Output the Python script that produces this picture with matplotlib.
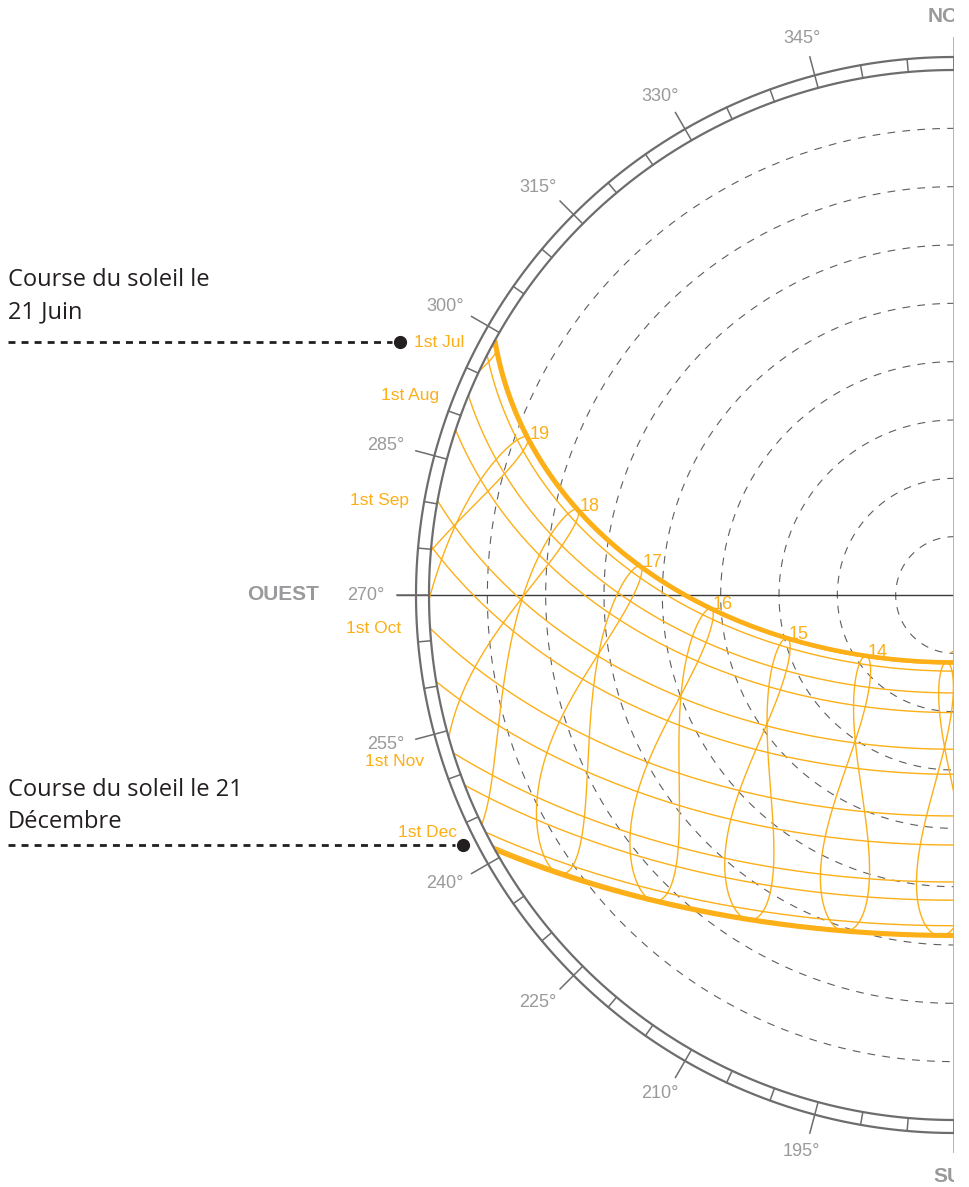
import numpy as np
import matplotlib.pyplot as plt

# site used for the sun path
latitude = 35.0
longitude = 1.75
utc_offset = 1

# 1st of each month, and the two solstices (day of year)
month_days = [1, 32, 60, 91, 121, 152, 182, 213, 244, 274, 305, 335]
solstice_days = [172, 355]
label_days = [182, 213, 244, 274, 305, 335]
date_labels = ['1st Jul', '1st Aug', '1st Sep', '1st Oct', '1st Nov', '1st Dec']
label_shift = [0, 0, 0, 0, -8, 0]

hours = [13, 14, 15, 16, 17, 18, 19, 20]
hour_labels = [13, 14, 15, 16, 17, 18, 19]
altitude_rings = [10, 20, 30, 40, 50, 60, 70, 80]
azimuth_ticks = list(range(180, 361, 5))
azimuth_labels = [195, 210, 225, 240, 255, 270, 285, 300, 315, 330, 345]

ORANGE = '#fcaf17'
GREY = '#6d6d6f'
LABEL_GREY = '#9a9a9c'

# pixel layout: centre of the diagram and px per degree of zenith angle
CX, CY = 954, 595
S = 525 / 90


def px(x, y):
    return (x - CX) / S, (CY - y) / S


def sun_position(day, clock):
    g = 2 * np.pi / 365 * (day - 1 + (clock - 12) / 24)
    decl = (0.006918 - 0.399912 * np.cos(g) + 0.070257 * np.sin(g)
            - 0.006758 * np.cos(2 * g) + 0.000907 * np.sin(2 * g)
            - 0.002697 * np.cos(3 * g) + 0.00148 * np.sin(3 * g))
    eot = 229.18 * (0.000075 + 0.001868 * np.cos(g) - 0.032077 * np.sin(g)
                    - 0.014615 * np.cos(2 * g) - 0.040849 * np.sin(2 * g))
    tst = clock * 60 + eot + 4 * longitude - 60 * utc_offset
    ha = np.radians(tst / 4 - 180)
    lat = np.radians(latitude)
    cz = np.sin(lat) * np.sin(decl) + np.cos(lat) * np.cos(decl) * np.cos(ha)
    zen = np.degrees(np.arccos(np.clip(cz, -1, 1)))
    az = np.arctan2(np.sin(ha), np.cos(ha) * np.sin(lat) - np.tan(decl) * np.cos(lat)) + np.pi
    return zen, az, decl


def to_xy(zen, az):
    return zen * np.sin(az), zen * np.cos(az)


fig = plt.figure(figsize=(9.69, 11.87), dpi=100)
ax = fig.add_axes([0, 0, CX / 969, 1])
ax.set_xlim(-CX / S, 0)
ax.set_ylim(-(1187 - CY) / S, CY / S)
ax.axis('off')

t = np.linspace(0, 2 * np.pi, 721)

# altitude circles
for alt in altitude_rings:
    r = 90 - alt
    ax.plot(r * np.cos(t), r * np.sin(t), color='#5e5e5e', lw=0.8,
            ls=(0, (7, 6.5)), zorder=1)

# cardinal lines
ax.plot([-95.5, 0], [0, 0], color='#3a3a3a', lw=1.0, zorder=2)
ax.plot([0, 0], [-95.5, 95.5], color='#b0b0b0', lw=1.3, zorder=2)

# compass ring
for r in (90, 538 / S):
    ax.plot(r * np.cos(t), r * np.sin(t), color=GREY, lw=1.6, zorder=4)
for a in azimuth_ticks:
    ar = np.radians(a)
    r1 = 95.5 if a in azimuth_labels else 538 / S
    ax.plot([90 * np.sin(ar), r1 * np.sin(ar)], [90 * np.cos(ar), r1 * np.cos(ar)],
            color=GREY, lw=1.1, zorder=4)
for a in azimuth_labels:
    ar = np.radians(a)
    ax.text(588 / S * np.sin(ar), 576 / S * np.cos(ar), f'{a}°', color=LABEL_GREY,
            fontsize=13, family='Liberation Sans', ha='center', va='center')

ax.text(*px(283, 595), 'OUEST', color=LABEL_GREY, fontsize=15, fontweight='bold',
        family='Liberation Sans', ha='center', va='center')
# north and south names sit on the meridian and are cut by the half diagram
ax.text(*px(958, 17), 'NORD', color=LABEL_GREY, fontsize=15, fontweight='bold',
        family='Liberation Sans', ha='center', va='center', clip_on=True)
ax.text(*px(955, 1177), 'SUD', color=LABEL_GREY, fontsize=15, fontweight='bold',
        family='Liberation Sans', ha='center', va='center', clip_on=True)

# daily sun paths
clock = np.linspace(3, 23, 4000)
for day in month_days + solstice_days:
    zen, az, _ = sun_position(day, clock)
    x, y = to_xy(zen, az)
    x[zen > 90] = np.nan
    lw = 3.2 if day in solstice_days else 1.0
    ax.plot(x, y, color=ORANGE, lw=lw, zorder=3, solid_capstyle='butt')

# hour analemmas
days = np.arange(1, 366.01, 0.25)
for h in hours:
    zen, az, _ = sun_position(days, h)
    x, y = to_xy(zen, az)
    x[zen > 90] = np.nan
    ax.plot(x, y, color=ORANGE, lw=1.0, zorder=3)

# hour labels along the 21 June path
for h in hour_labels:
    zen, az, _ = sun_position(solstice_days[0], h)
    x, y = to_xy(zen, az)
    ax.annotate(str(h), (x, y), xytext=(2, -5), textcoords='offset pixels',
                color=ORANGE, fontsize=13, family='Liberation Sans',
                ha='left', va='bottom', annotation_clip=False, clip_on=True)

# month labels beside the sunset point
for day, lab, dy in zip(label_days, date_labels, label_shift):
    _, _, decl = sun_position(day, 19.0)
    az = 2 * np.pi - np.arccos(np.sin(decl) / np.cos(np.radians(latitude)))
    x, y = to_xy(90, az)
    ax.annotate(lab, (x, y), xytext=(-29, dy), textcoords='offset pixels',
                color=ORANGE, fontsize=12.5, family='Liberation Sans',
                ha='right', va='center')

# callouts for the two solstice paths
callouts = [
    ('Course du soleil le\n21 Juin', 318, 342, 400),
    ('Course du soleil le 21\nDécembre', 828, 845, 463),
]
for text, base, ly, dot_x in callouts:
    ax.text(*px(8, base), text, color='#231f20', fontsize=17,
            family='Open Sans', ha='left', va='baseline', linespacing=1.46)
    x0, y0 = px(8, ly)
    x1, _ = px(dot_x - 8, ly)
    ax.plot([x0, x1], [y0, y0], color='#231f20', lw=2.0, ls=(0, (2.5, 2.2)))
    ax.plot(*px(dot_x, ly), 'o', color='#231f20', ms=8.5)

fig.savefig('out.png', dpi=100)
